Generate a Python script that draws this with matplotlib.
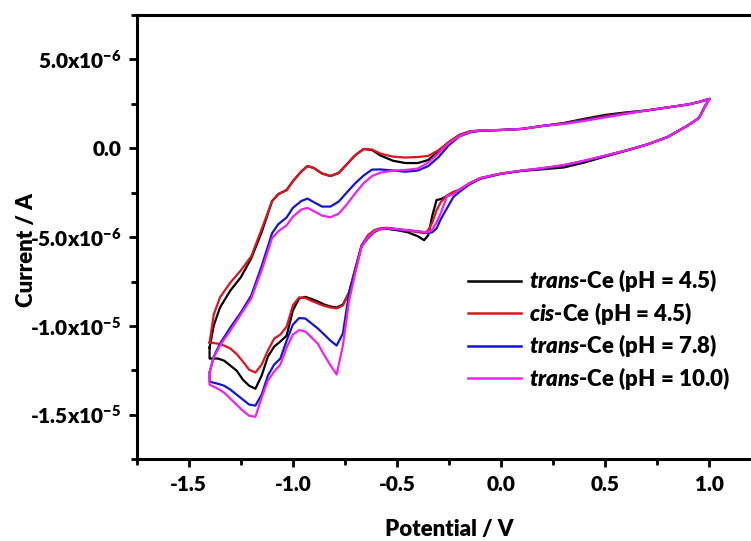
import numpy as np
import matplotlib
matplotlib.use('Agg')
import matplotlib.pyplot as plt
from matplotlib.ticker import MultipleLocator

# --- data (potential in V, current in uA) ---
# anodic branch: left vertex -> right vertex
pot_up = [-1.40, -1.38, -1.35, -1.30, -1.25, -1.20, -1.15, -1.10, -1.07, -1.03,
          -1.00, -0.96, -0.93, -0.90, -0.86, -0.82, -0.78, -0.74, -0.70, -0.66,
          -0.62, -0.58, -0.52, -0.46, -0.40, -0.35, -0.30, -0.25, -0.20, -0.15,
          -0.10, 0.0, 0.1, 0.2, 0.3, 0.4, 0.5, 0.6, 0.7, 0.8,
          0.9, 0.95, 1.0]

trans45_up = [-11.21, -9.97, -8.96, -8.00, -7.26, -6.19, -4.72, -2.97, -2.58, -2.35,
              -1.85, -1.31, -1.00, -1.11, -1.42, -1.56, -1.39, -0.89, -0.38, -0.04,
              -0.10, -0.40, -0.70, -0.83, -0.83, -0.66, -0.15, 0.36, 0.75, 0.95,
              1.00, 1.03, 1.09, 1.26, 1.42, 1.66, 1.88, 2.02, 2.13, 2.30,
              2.47, 2.61, 2.78]
cis45_up = [-10.93, -9.35, -8.39, -7.55, -6.87, -6.08, -4.55, -2.97, -2.58, -2.35,
            -1.85, -1.31, -1.00, -1.11, -1.42, -1.56, -1.39, -0.89, -0.38, -0.04,
            -0.07, -0.30, -0.47, -0.52, -0.49, -0.43, -0.10, 0.36, 0.75, 0.95,
            1.00, 1.03, 1.09, 1.26, 1.40, 1.61, 1.82, 1.99, 2.13, 2.30,
            2.47, 2.61, 2.78]
trans78_up = [-12.62, -11.72, -10.99, -10.08, -9.24, -8.28, -6.63, -4.78, -4.27, -3.89,
              -3.35, -2.97, -2.83, -3.03, -3.28, -3.28, -3.00, -2.47, -1.96, -1.53,
              -1.20, -1.19, -1.25, -1.32, -1.25, -1.00, -0.49, 0.19, 0.67, 0.89,
              0.98, 1.03, 1.09, 1.26, 1.38, 1.58, 1.78, 1.96, 2.13, 2.30,
              2.47, 2.61, 2.78]
trans100_up = [-12.62, -11.77, -11.10, -10.25, -9.35, -8.45, -6.87, -5.06, -4.67, -4.33,
               -3.85, -3.45, -3.35, -3.54, -3.79, -3.88, -3.68, -3.14, -2.52, -1.96,
               -1.56, -1.37, -1.26, -1.22, -1.14, -0.80, -0.27, 0.30, 0.69, 0.92,
               1.00, 1.03, 1.09, 1.26, 1.37, 1.54, 1.74, 1.94, 2.13, 2.30,
               2.47, 2.61, 2.78]

# cathodic branch: right vertex -> left vertex
pot_down = [1.0, 0.98, 0.95, 0.9, 0.8, 0.7, 0.6, 0.5, 0.4, 0.3,
            0.2, 0.1, 0.0, -0.1, -0.15, -0.2, -0.23, -0.26, -0.29, -0.31,
            -0.33, -0.35, -0.37, -0.40, -0.45, -0.50, -0.55, -0.58, -0.61, -0.64,
            -0.67, -0.70, -0.73, -0.76, -0.79, -0.82, -0.85, -0.88, -0.91, -0.94,
            -0.97, -1.00, -1.03, -1.06, -1.09, -1.12, -1.15, -1.18, -1.21, -1.24,
            -1.27, -1.30, -1.33, -1.36, -1.40]

trans45_down = [2.78, 2.39, 1.71, 1.31, 0.64, 0.21, -0.14, -0.46, -0.80, -1.08,
                -1.18, -1.27, -1.42, -1.68, -1.96, -2.33, -2.55, -2.69, -2.86, -2.91,
                -3.76, -4.89, -5.17, -4.95, -4.72, -4.61, -4.53, -4.55, -4.67, -4.95,
                -5.46, -6.76, -8.11, -8.79, -8.96, -8.90, -8.79, -8.62, -8.48, -8.36,
                -8.45, -9.12, -10.54, -10.87, -11.16, -11.72, -12.79, -13.53, -13.36, -13.02,
                -12.51, -12.23, -11.95, -11.83, -11.83]
cis45_down = [2.78, 2.39, 1.71, 1.31, 0.64, 0.21, -0.12, -0.42, -0.72, -0.98,
              -1.13, -1.26, -1.42, -1.68, -1.96, -2.33, -2.45, -2.65, -3.03, -3.48,
              -4.16, -4.61, -4.78, -4.72, -4.64, -4.55, -4.47, -4.50, -4.61, -4.89,
              -5.46, -6.76, -8.11, -8.84, -9.01, -8.96, -8.87, -8.73, -8.59, -8.42,
              -8.39, -8.84, -10.03, -10.48, -10.71, -11.38, -12.17, -12.62, -12.46, -12.00,
              -11.58, -11.27, -11.10, -10.99, -10.93]
trans78_down = [2.78, 2.39, 1.71, 1.31, 0.64, 0.21, -0.12, -0.42, -0.71, -0.96,
                -1.13, -1.26, -1.44, -1.72, -2.02, -2.45, -2.75, -3.37, -3.99, -4.50,
                -4.72, -4.78, -4.72, -4.67, -4.61, -4.55, -4.50, -4.55, -4.72, -5.07,
                -5.51, -6.87, -8.11, -10.42, -11.10, -10.82, -10.48, -10.14, -9.86, -9.58,
                -9.55, -9.92, -10.82, -11.83, -12.17, -12.79, -13.86, -14.48, -14.42, -14.14,
                -13.86, -13.58, -13.36, -13.25, -13.13]
trans100_down = [2.78, 2.39, 1.71, 1.31, 0.64, 0.21, -0.12, -0.41, -0.69, -0.94,
                 -1.11, -1.25, -1.42, -1.68, -1.96, -2.33, -2.58, -2.69, -3.65, -4.16,
                 -4.55, -4.72, -4.72, -4.67, -4.61, -4.55, -4.50, -4.55, -4.67, -5.01,
                 -5.51, -6.98, -8.56, -11.10, -12.73, -12.20, -11.63, -11.00, -10.65, -10.31,
                 -10.23, -10.48, -11.21, -12.17, -12.56, -13.07, -14.03, -15.11, -15.05, -14.77,
                 -14.43, -14.09, -13.75, -13.53, -13.30]

labels = [r'$\it{trans}$-Ce (pH = 4.5)', r'$\it{cis}$-Ce (pH = 4.5)',
          r'$\it{trans}$-Ce (pH = 7.8)', r'$\it{trans}$-Ce (pH = 10.0)']
colors = ['#000000', '#e0141e', '#1414d2', '#ee22ee']

y_ticks = [5e-6, 0.0, -5e-6, -1e-5, -1.5e-5]
y_ticklabels = ['5.0x10$^{-6}$', '0.0', '-5.0x10$^{-6}$', '-1.0x10$^{-5}$', '-1.5x10$^{-5}$']
x_ticks = [-1.5, -1.0, -0.5, 0.0, 0.5, 1.0]
x_ticklabels = ['-1.5', '-1.0', '-0.5', '0.0', '0.5', '1.0']

plt.rcParams['font.family'] = ['Lato', 'DejaVu Sans']
plt.rcParams['font.weight'] = 'heavy'
plt.rcParams['axes.labelweight'] = 'heavy'
plt.rcParams['mathtext.fontset'] = 'custom'
plt.rcParams['mathtext.rm'] = 'Lato:heavy'
plt.rcParams['mathtext.it'] = 'Lato:italic:heavy'
plt.rcParams['mathtext.default'] = 'rm'
plt.rcParams['axes.unicode_minus'] = False

fig = plt.figure(figsize=(7.51, 5.41), dpi=100)
ax = fig.add_axes([0.182, 0.151, 0.832, 0.8213])

ups = [trans45_up, cis45_up, trans78_up, trans100_up]
downs = [trans45_down, cis45_down, trans78_down, trans100_down]
for up, down, lab, col in zip(ups, downs, labels, colors):
    x = np.concatenate([pot_up, pot_down, pot_up[:1]])
    y = np.concatenate([up, down, up[:1]]) * 1e-6
    ax.plot(x, y, color=col, lw=1.6, label=lab, solid_joinstyle='round')

ax.set_xlim(-1.75, 1.25)
ax.set_ylim(-1.75e-5, 7.5e-6)
ax.set_xticks(x_ticks)
ax.set_xticklabels(x_ticklabels)
ax.set_yticks(y_ticks)
ax.set_yticklabels(y_ticklabels)
ax.xaxis.set_minor_locator(MultipleLocator(0.25))
ax.yaxis.set_minor_locator(MultipleLocator(2.5e-6))
ax.tick_params(which='major', direction='out', length=6, width=2, labelsize=15, pad=5)
ax.tick_params(which='minor', direction='out', length=4, width=2)
ax.tick_params(top=False, right=False, which='both')
for s in ax.spines.values():
    s.set_linewidth(2.2)

ax.set_xlabel('Potential / V', fontsize=16, fontweight='heavy')
ax.set_ylabel('Current / A', fontsize=16, fontweight='heavy')
ax.yaxis.set_label_coords(-0.160, 0.471)
ax.xaxis.set_label_coords(0.5, -0.135)

leg = ax.legend(loc='upper left', bbox_to_anchor=(0.530, 0.432), frameon=False,
                fontsize=16, handlelength=2.4, handletextpad=0.33, labelspacing=0.25,
                borderpad=0, borderaxespad=0)
for line in leg.get_lines():
    line.set_linewidth(1.8)

fig.savefig('out.png', dpi=100)
